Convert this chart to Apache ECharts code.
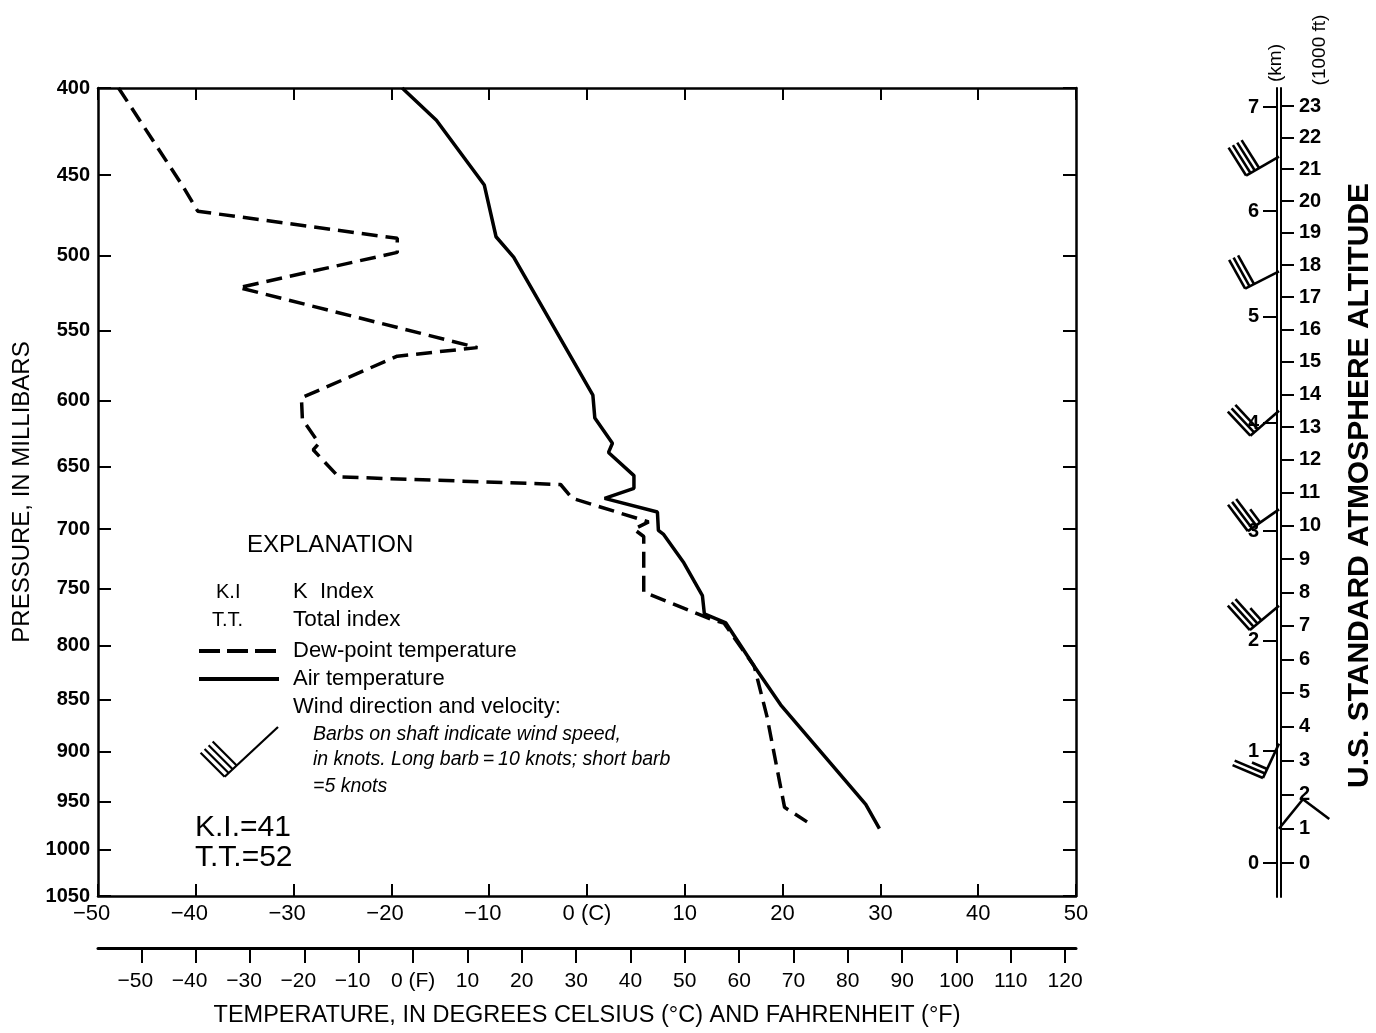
<!DOCTYPE html>
<html>
<head>
<meta charset="utf-8">
<script src="https://cdn.jsdelivr.net/npm/echarts@6/dist/echarts.min.js"></script>
<style>
  html, body { margin: 0; padding: 0; background: #fff; }
  #chart { width: 1376px; height: 1033px; }
</style>
</head>
<body>
<div id="chart"></div>
<script>
// Sounding: air and dew-point temperature (°C) against pressure (mb)
const airPressure = [400, 418, 456, 488, 501, 596, 613, 632, 639, 657, 667, 675, 686, 701, 704, 728, 756, 772, 780, 819, 855, 953, 978];
const airTemp     = [-18.9, -15.4, -10.5, -9.3, -7.5, 0.6, 0.8, 2.6, 2.2, 4.8, 4.8, 1.8, 7.2, 7.3, 7.8, 9.9, 11.8, 12.0, 14.2, 17.1, 19.8, 28.5, 29.9];

const dewPressure = [400, 456, 472, 489, 498, 521, 562, 568, 598, 614, 632, 637, 658, 664, 675, 694, 700, 706, 753, 777, 780, 819, 866, 956, 971];
const dewTemp     = [-47.9, -41.4, -39.8, -19.4, -19.4, -35.6, -11.2, -19.4, -29.2, -29.1, -27.4, -28.0, -25.4, -2.7, -1.5, 6.3, 4.8, 5.8, 5.8, 12.8, 14.0, 17.1, 18.4, 20.2, 22.5];

// Winds aloft: altitude (1000 ft), direction (deg), speed (knots)
const windAltKft  = [1.0, 3.5, 7.6, 10.5, 13.5, 17.8, 21.4];
const windDirDeg  = [39, 205, 230, 235, 229, 243, 240];
const windSpeedKt = [10, 25, 35, 35, 30, 30, 40];

// Tick values
const pressureTicks   = [400, 450, 500, 550, 600, 650, 700, 750, 800, 850, 900, 950, 1000, 1050];
const fahrenheitTicks = [-50, -40, -30, -20, -10, 0, 10, 20, 30, 40, 50, 60, 70, 80, 90, 100, 110, 120];
const kmTicks  = [0, 1, 2, 3, 4, 5, 6, 7];
const kftTicks = [0, 1, 2, 3, 4, 5, 6, 7, 8, 9, 10, 11, 12, 13, 14, 15, 16, 17, 18, 19, 20, 21, 22, 23];

const kIndex = 41;
const totalIndex = 52;

// Pressure axis is linear in p^0.286
const KAPPA = 0.286;
const tp = p => Math.pow(p, KAPPA);
const pFromTp = t => Math.pow(t, 1 / KAPPA);
// U.S. standard atmosphere, troposphere
const pFromMeters = h => 1013.25 * Math.pow(1 - 2.25577e-5 * h, 5.25588);
const metersFromP = p => (1 - Math.pow(p / 1013.25, 1 / 5.25588)) / 2.25577e-5;
const tMin = tp(400), tMax = tp(1050);

const FONT = "'Liberation Sans', Arial, Helvetica, sans-serif";
const MINUS = '\u2212';

// Negative labels keep their digits centred on the tick, the minus sign hangs to the left
function minusWidth(size) {
  const ctx = document.createElement('canvas').getContext('2d');
  ctx.font = size + 'px ' + FONT;
  return ctx.measureText(MINUS).width;
}
const tempLabel = unit => v => {
  if (v === 0) return '0 (' + unit + ')';
  return v < 0 ? MINUS + Math.abs(v) + '{pad| }' : String(v);
};

// Shaft from the station point toward the wind direction, barbs at the far end
function barbSegments(x0, y0, bearing, speed, shaftLen, barbLen, spacing) {
  const r = bearing * Math.PI / 180;
  const dx = Math.sin(r), dy = -Math.cos(r);
  const tx = x0 + dx * shaftLen, ty = y0 + dy * shaftLen;
  const a = 88 * Math.PI / 180;
  const bx = dx * Math.cos(a) - dy * Math.sin(a);
  const by = dx * Math.sin(a) + dy * Math.cos(a);
  const segs = [[x0, y0, tx, ty]];
  const full = Math.floor(speed / 10);
  const half = speed % 10 >= 5;
  let i = 0;
  for (; i < full; i++) {
    const sx = tx - dx * spacing * i, sy = ty - dy * spacing * i;
    segs.push([sx, sy, sx + bx * barbLen, sy + by * barbLen]);
  }
  if (half) {
    const sx = tx - dx * spacing * i, sy = ty - dy * spacing * i;
    segs.push([sx, sy, sx + bx * barbLen * 0.5, sy + by * barbLen * 0.5]);
  }
  return segs;
}

const segToLine = (s, w) => ({
  type: 'line',
  shape: { x1: s[0], y1: s[1], x2: s[2], y2: s[3] },
  style: { stroke: '#000', lineWidth: w, lineCap: 'butt' }
});

const airData = airPressure.map((p, i) => [airTemp[i], tp(p)]);
const dewData = dewPressure.map((p, i) => [dewTemp[i], tp(p)]);
const windData = windAltKft.map((a, i) => [0.5, tp(pFromMeters(a * 304.8)), windDirDeg[i], windSpeedKt[i]]);

const axisLineStyle = { color: '#000', width: 2.5 };
const tickStyle = { color: '#000', width: 2 };

const legendText = (text, x, y, size, extra) => ({
  type: 'text', x: x, y: y, silent: true,
  style: Object.assign({ text: text, fill: '#000', font: size + 'px ' + FONT, textAlign: 'left', verticalAlign: 'middle' }, extra || {})
});

const legendBarb = barbSegments(278, 727, 227, 40, 73, 34, 5.5).map(s => segToLine(s, 2.2));

const option = {
  animation: false,
  backgroundColor: '#fff',
  grid: [
    { left: 98, top: 88, width: 978, height: 809 },
    { left: 1277, top: 88, width: 5, height: 809 }
  ],
  legend: {
    orient: 'vertical',
    left: 197,
    top: 640,
    padding: 0,
    itemWidth: 80,
    itemHeight: 14,
    itemGap: 6,
    selectedMode: false,
    itemStyle: { opacity: 0, color: 'rgba(0,0,0,0)', borderWidth: 0 },
    lineStyle: { width: 4 },
    data: [
      { name: 'Dew-point temperature', lineStyle: { type: [21, 7], width: 4 } },
      'Air temperature'
    ],
    textStyle: { fontSize: 22, color: '#000', fontFamily: FONT, padding: [0, 0, 0, 9] }
  },
  xAxis: [
    {
      gridIndex: 0, type: 'value', position: 'bottom', min: -50, max: 50, interval: 10,
      axisLine: { onZero: false, lineStyle: axisLineStyle },
      axisTick: { inside: true, length: 12, lineStyle: tickStyle },
      axisLabel: { color: '#000', fontSize: 22, fontFamily: FONT, margin: 7,
        formatter: tempLabel('C'),
        rich: { pad: { width: minusWidth(22), fontSize: 22 } } },
      splitLine: { show: false }
    },
    {
      gridIndex: 0, type: 'value', position: 'top', min: -50, max: 50, interval: 10,
      axisLine: { onZero: false, lineStyle: axisLineStyle },
      axisTick: { inside: true, length: 12, lineStyle: tickStyle },
      axisLabel: { show: false },
      splitLine: { show: false }
    },
    {
      gridIndex: 0, type: 'value', position: 'bottom', offset: 52, min: -58, max: 122,
      axisLine: { onZero: false, lineStyle: { color: '#000', width: 3 } },
      axisTick: { inside: false, length: 15, lineStyle: tickStyle, customValues: fahrenheitTicks },
      axisLabel: { color: '#000', fontSize: 21, fontFamily: FONT, margin: 23, hideOverlap: false,
        customValues: fahrenheitTicks,
        formatter: tempLabel('F'),
        rich: { pad: { width: minusWidth(21), fontSize: 21 } } },
      splitLine: { show: false },
      name: 'TEMPERATURE, IN DEGREES CELSIUS (°C) AND FAHRENHEIT (°F)',
      nameLocation: 'middle', nameGap: 56,
      nameTextStyle: { color: '#000', fontSize: 23.5, fontFamily: FONT }
    },
    { gridIndex: 1, type: 'value', min: 0, max: 1, show: false }
  ],
  yAxis: [
    {
      gridIndex: 0, type: 'value', position: 'left', inverse: true, min: tMin, max: tMax,
      axisLine: { onZero: false, lineStyle: axisLineStyle },
      axisTick: { inside: true, length: 13, lineStyle: tickStyle, customValues: pressureTicks.map(tp) },
      axisLabel: { color: '#000', fontSize: 20, fontWeight: 'bold', fontFamily: FONT, margin: 8,
        customValues: pressureTicks.map(tp),
        formatter: v => String(Math.round(pFromTp(v))) },
      splitLine: { show: false },
      name: 'PRESSURE, IN MILLIBARS', nameLocation: 'middle', nameRotate: 90, nameGap: 63,
      nameTextStyle: { color: '#000', fontSize: 24, fontFamily: FONT }
    },
    {
      gridIndex: 0, type: 'value', position: 'right', inverse: true, min: tMin, max: tMax,
      axisLine: { onZero: false, lineStyle: axisLineStyle },
      axisTick: { inside: true, length: 13, lineStyle: tickStyle, customValues: pressureTicks.map(tp) },
      axisLabel: { show: false },
      splitLine: { show: false }
    },
    {
      gridIndex: 1, type: 'value', position: 'left', inverse: true, min: tMin, max: tMax,
      axisLine: { onZero: false, lineStyle: { color: '#000', width: 2 } },
      axisTick: { inside: false, length: 14, lineStyle: tickStyle,
        customValues: kmTicks.map(k => tp(pFromMeters(k * 1000))) },
      axisLabel: { color: '#000', fontSize: 20, fontWeight: 'bold', fontFamily: FONT, margin: 18,
        customValues: kmTicks.map(k => tp(pFromMeters(k * 1000))),
        formatter: v => String(Math.round(metersFromP(pFromTp(v)) / 1000)) },
      splitLine: { show: false }
    },
    {
      gridIndex: 1, type: 'value', position: 'right', inverse: true, min: tMin, max: tMax,
      axisLine: { onZero: false, lineStyle: { color: '#000', width: 2 } },
      axisTick: { inside: false, length: 13, lineStyle: tickStyle,
        customValues: kftTicks.map(k => tp(pFromMeters(k * 304.8))) },
      axisLabel: { color: '#000', fontSize: 20, fontWeight: 'bold', fontFamily: FONT, margin: 18,
        customValues: kftTicks.map(k => tp(pFromMeters(k * 304.8))),
        formatter: v => String(Math.round(metersFromP(pFromTp(v)) / 304.8)) },
      splitLine: { show: false },
      name: 'U.S. STANDARD ATMOSPHERE ALTITUDE', nameLocation: 'middle', nameRotate: 90, nameGap: 64,
      nameTextStyle: { color: '#000', fontSize: 30, fontWeight: 'bold', fontFamily: FONT, padding: [0, 0, 0, 14] }
    }
  ],
  series: [
    {
      name: 'Dew-point temperature', type: 'line', xAxisIndex: 0, yAxisIndex: 0,
      data: dewData, symbol: 'none', silent: true,
      lineStyle: { color: '#000', width: 3.5, type: [16, 8], cap: 'butt' },
      itemStyle: { color: '#000' }
    },
    {
      name: 'Air temperature', type: 'line', xAxisIndex: 0, yAxisIndex: 0,
      data: airData, symbol: 'none', silent: true,
      lineStyle: { color: '#000', width: 3.5, type: 'solid' },
      itemStyle: { color: '#000' }
    },
    {
      name: 'Wind', type: 'custom', xAxisIndex: 3, yAxisIndex: 2, clip: false, silent: true,
      dimensions: ['x', 'y', 'dir', 'speed'],
      encode: { x: 0, y: 1 },
      data: windData,
      renderItem: (params, api) => {
        const pt = api.coord([api.value(0), api.value(1)]);
        const segs = barbSegments(pt[0], pt[1], api.value(2), api.value(3), 38, 33, 5);
        return { type: 'group', children: segs.map(s => segToLine(s, 2.6)) };
      }
    }
  ],
  graphic: [
    legendText('EXPLANATION', 247, 545, 24),
    legendText('K.I', 216, 592, 20),
    legendText('K  Index', 293, 592, 22),
    legendText('T.T.', 212, 620, 20),
    legendText('Total index', 293, 620, 22.5),
    legendText('Wind direction and velocity:', 293, 707, 22),
    legendText('Barbs on shaft indicate wind speed,', 313, 735, 20, { font: 'italic 19.5px ' + FONT }),
    legendText('in knots. Long barb\u2009=\u200910 knots; short barb', 313, 760, 20, { font: 'italic 19.5px ' + FONT }),
    legendText('=5 knots', 313, 787, 20, { font: 'italic 19.5px ' + FONT }),
    legendText('K.I.=' + kIndex, 195, 828, 30),
    legendText('T.T.=' + totalIndex, 195, 858, 30),
    { type: 'group', silent: true, children: legendBarb },
    { type: 'text', x: 1276, y: 63, rotation: Math.PI / 2, silent: true,
      style: { text: '(km)', fill: '#000', font: '19px ' + FONT, textAlign: 'center', verticalAlign: 'middle' } },
    { type: 'text', x: 1320, y: 50, rotation: Math.PI / 2, silent: true,
      style: { text: '(1000 ft)', fill: '#000', font: '19px ' + FONT, textAlign: 'center', verticalAlign: 'middle' } }
  ]
};

const chart = echarts.init(document.getElementById('chart'), null, { renderer: 'canvas' });
chart.setOption(option);
</script>
</body>
</html>
